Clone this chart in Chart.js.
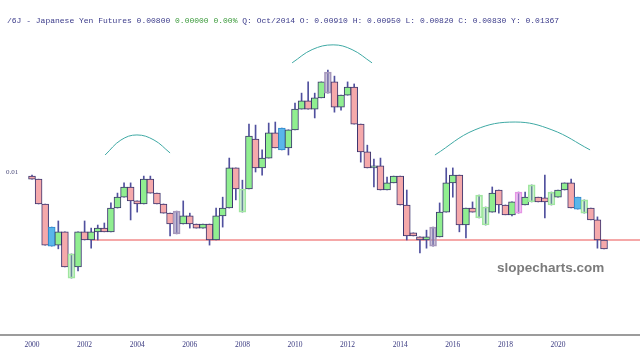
<!DOCTYPE html>
<html><head><meta charset="utf-8">
<script src="https://cdn.jsdelivr.net/npm/chart.js@4.4.0/dist/chart.umd.min.js"></script>
<style>
html,body{margin:0;padding:0;background:#fff;}
#wrap{position:relative;width:640px;height:357px;overflow:hidden;}
canvas{position:absolute;left:0;top:0;}
#hdr{position:absolute;left:7px;top:16px;font:8px "Liberation Mono",monospace;color:#3b3b8a;white-space:pre;line-height:10px;}
#hdr .g{color:#3a9a3a;}
#wm{position:absolute;left:497px;top:260px;font:bold 13.5px "Liberation Sans",Arial,sans-serif;color:#7b7b7b;line-height:16px;}
</style></head><body>
<div id="wrap"><canvas id="c" width="640" height="357"></canvas>
<div id="hdr">/6J - Japanese Yen Futures 0.00800 <span class="g">0.00000 0.00%</span> Q: Oct/2014 O: 0.00910 H: 0.00950 L: 0.00820 C: 0.00830 Y: 0.01367</div>
<div id="wm">slopecharts.com</div></div>
<script>
// Quarterly candles, first quarter 2000 Q1
const firstYear = 2000;
const open = [.00988,.00979,.00906,.00782,.00785,.00824,.00688,.00721,.00824,.00800,
.00824,.00835,.00824,.00894,.00926,.00956,.00915,.00906,.00979,.00938,
.00906,.00879,.00818,.00847,.00871,.00847,.00835,.00847,.00800,.00871,
.00894,.01012,.00882,.00950,.01097,.01012,.01041,.01115,.01065,.01071,
.01124,.01185,.01209,.01185,.01218,.01232,.01265,.01191,.01226,.01250,
.01141,.01059,.01012,.01018,.00947,.00968,.00988,.00903,.00821,.00809,
.00800,.00782,.00809,.00882,.00968,.00991,.00844,.00894,.00865,.00844,
.00882,.00947,.00903,.00874,.00879,.00903,.00912,.00926,.00924,.00903,
.00926,.00947,.00968,.00891,.00879,.00894,.00859,.00800];
const close = [.00979,.00906,.00785,.00838,.00824,.00721,.00759,.00824,.00800,.00824,
.00835,.00824,.00894,.00926,.00956,.00915,.00906,.00979,.00938,.00906,
.00879,.00847,.00885,.00871,.00847,.00835,.00847,.00800,.00871,.00894,
.01012,.00950,.00950,.01106,.01012,.01041,.01115,.01071,.01129,.01124,
.01185,.01209,.01185,.01218,.01265,.01294,.01191,.01226,.01250,.01141,
.01059,.01012,.01018,.00947,.00968,.00988,.00903,.00812,.00812,.00800,
.00809,.00838,.00882,.00968,.00991,.00844,.00894,.00882,.00932,.00897,
.00938,.00903,.00874,.00912,.00941,.00926,.00962,.00912,.00912,.00941,
.00947,.00968,.00894,.00926,.00918,.00859,.00800,.00774];
const high = [.00991,.00979,.00906,.00838,.00856,.00824,.00759,.00824,.00856,.00835,
.00844,.00850,.00909,.00938,.00968,.00968,.00915,.00988,.00988,.00938,
.00906,.00879,.00885,.00915,.00879,.00847,.00847,.00847,.00894,.00926,
.01041,.01012,.00976,.01141,.01138,.01065,.01144,.01147,.01129,.01124,
.01203,.01232,.01265,.01232,.01265,.01300,.01282,.01226,.01265,.01259,
.01141,.01079,.01038,.01041,.00985,.00988,.00988,.00947,.00821,.00809,
.00829,.00838,.00909,.01012,.01012,.00991,.00894,.00912,.00932,.00897,
.00956,.00947,.00903,.00912,.00941,.00941,.00962,.00926,.00991,.00941,
.00947,.00968,.00979,.00926,.00918,.00894,.00868,.00800];
const low = [.00979,.00906,.00785,.00782,.00774,.00721,.00688,.00709,.00800,.00776,
.00800,.00824,.00824,.00894,.00926,.00859,.00882,.00906,.00938,.00906,
.00879,.00812,.00818,.00847,.00835,.00835,.00835,.00785,.00800,.00838,
.00894,.00918,.00882,.00950,.01000,.00991,.01041,.01071,.01065,.01050,
.01124,.01185,.01185,.01159,.01218,.01232,.01176,.01182,.01226,.01141,
.01029,.01012,.00956,.00947,.00947,.00968,.00903,.00800,.00812,.00762,
.00776,.00782,.00809,.00882,.00926,.00824,.00806,.00882,.00865,.00844,
.00882,.00879,.00874,.00871,.00879,.00903,.00912,.00912,.00865,.00903,
.00926,.00947,.00894,.00891,.00879,.00859,.00776,.00774];
// highlight kind per candle: '.' normal, b blue, p pale green, g grey, m magenta
const kind = ("...b..p" + "..............." + "g" + "........." + "p" + "....." + "b" +
  "......" + "g" + "..............." + "g" + "......" + "pp" + "...." + "m.p..p...bp...").split('');
const yearTicks = [2000,2002,2004,2006,2008,2010,2012,2014,2016,2018,2020];
const yTicks = [0.01];
const supportLevel = 0.008;
const supportStart = 2002.2;
const arcLeft = [[2002.78,0.01050],[2003.38,0.01094],[2003.99,0.01109],[2004.64,0.01094],[2005.25,0.01056]];
const arcMid = [[2009.89,0.01321],[2010.65,0.01360],[2011.45,0.01374],[2012.17,0.01360],[2012.93,0.01321]];
const arcRight = [[2015.32,0.01050],[2016.84,0.01124],[2018.37,0.01147],[2019.77,0.01124],[2021.22,0.01065]];

const xMin = 1998.783, xMax = 2023.118;
const yMin = 0.005206, yMax = 0.015059;

const xs = open.map((_, i) => firstYear + i / 4);
function fillFor(i){
  const k = kind[i];
  if (k === 'b') return '#5ab6ea';
  if (k === 'p') return 'rgba(150,236,150,0.35)';
  if (k === 'g') return 'rgba(160,148,185,0.55)';
  if (k === 'm') return 'rgba(236,150,236,0.45)';
  return close[i] >= open[i] ? '#90ee90' : '#f5a9ab';
}
function borderFor(i){
  const k = kind[i];
  if (k === 'b') return '#3088cc';
  if (k === 'p') return '#a2e6a2';
  if (k === 'g') return '#a899bd';
  if (k === 'm') return '#e496e4';
  return '#3a336e';
}
const arcDs = (pts) => ({
  type:'line', data: pts.map(p=>({x:p[0], y:p[1]})), borderColor:'#3fa9a4', borderWidth:1,
  pointRadius:0, tension:0.4, fill:false, order:0
});

new Chart(document.getElementById('c'), {
  type:'bar',
  data:{
    datasets:[
      { type:'line', data:[{x:supportStart,y:supportLevel},{x:2024,y:supportLevel}],
        borderColor:'#f28b8b', borderWidth:1.5, pointRadius:0, fill:false, order:3 },
      { data: xs.map((x,i)=>({x, y:[low[i], high[i]]})), grouped:false, barThickness:1,
        backgroundColor:'#50509e', borderWidth:0, order:2 },
      { data: xs.map((x,i)=>({x, y:[open[i], close[i]]})), grouped:false, barThickness:6.9,
        backgroundColor: c => fillFor(c.dataIndex), borderColor: c => borderFor(c.dataIndex),
        borderWidth:1, borderSkipped:false, order:1 },
      arcDs(arcLeft), arcDs(arcMid), arcDs(arcRight)
    ]
  },
  options:{
    responsive:false, animation:false, devicePixelRatio:1,
    layout:{padding:0},
    plugins:{legend:{display:false}, tooltip:{enabled:false}, title:{display:false}},
    scales:{
      x:{ type:'linear', min:xMin, max:xMax, offset:false,
        grid:{display:false, drawTicks:false}, border:{display:true, color:'#9c9c9c', width:2},
        ticks:{padding:6, color:'#3b3b80', font:{family:'Liberation Serif', size:7.5},
          callback:v=>String(v), maxRotation:0, autoSkip:false},
        afterBuildTicks:s=>{ s.ticks = yearTicks.map(v=>({value:v})); },
        afterFit:s=>{ s.height = 22; s.paddingLeft = 0; s.paddingRight = 0; } },
      y:{ type:'linear', min:yMin, max:yMax, position:'left',
        grid:{display:false, drawTicks:false}, border:{display:false},
        ticks:{mirror:true, padding:6, color:'#4a4a7a', font:{family:'Liberation Serif', size:7},
          callback:v=>String(v)},
        afterBuildTicks:s=>{ s.ticks = yTicks.map(v=>({value:v})); },
        afterFit:s=>{ s.width = 0; s.paddingTop = 0; s.paddingBottom = 0; } }
    }
  }
});
</script>
</body></html>
